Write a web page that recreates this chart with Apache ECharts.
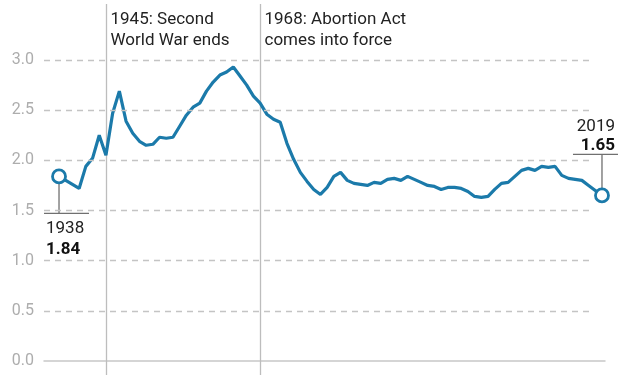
<!DOCTYPE html>
<html>
<head>
<meta charset="utf-8">
<script src="https://cdn.jsdelivr.net/npm/echarts@6/dist/echarts.min.js"></script>
<style>html,body{margin:0;padding:0;background:#fff}#c{width:624px;height:378px}</style>
</head>
<body>
<div id="c"></div>
<script>
const years = [];
for (let y = 1938; y <= 2019; y++) years.push(y);
const fertility = [
  1.84, 1.80, 1.76, 1.72, 1.94, 2.02, 2.25, 2.05, 2.47, 2.69,
  2.39, 2.27, 2.19, 2.15, 2.16, 2.23, 2.22, 2.23, 2.34, 2.45,
  2.53, 2.57, 2.69, 2.78, 2.85, 2.88, 2.93, 2.84, 2.75, 2.64,
  2.57, 2.46, 2.41, 2.38, 2.17, 2.01, 1.88, 1.79, 1.71, 1.66,
  1.73, 1.84, 1.88, 1.80, 1.77, 1.76, 1.75, 1.78, 1.77, 1.81,
  1.82, 1.80, 1.84, 1.81, 1.78, 1.75, 1.74, 1.71, 1.73, 1.73,
  1.72, 1.69, 1.64, 1.63, 1.64, 1.71, 1.77, 1.78, 1.84, 1.90,
  1.92, 1.90, 1.94, 1.93, 1.94, 1.85, 1.82, 1.81, 1.80, 1.75,
  1.70, 1.65
];
const yTicks = [0.5, 1.0, 1.5, 2.0, 2.5, 3.0];
const events = [
  { year: 1945, lines: ['1945: Second', 'World War ends'] },
  { year: 1968, lines: ['1968: Abortion Act', 'comes into force'] }
];

const BLUE = '#1b7aaa';
const FONT = 'Roboto, "Noto Sans", sans-serif';
const chart = echarts.init(document.getElementById('c'));
const lineData = years.map((y, i) => [y, fertility[i]]);
const endPts = [[years[0], fertility[0]], [years[years.length - 1], fertility[fertility.length - 1]]];

chart.setOption({
  animation: false,
  grid: { left: 44, right: 19, top: 60, bottom: 17 },
  xAxis: {
    type: 'value', min: 1935.76, max: 2019.45,
    axisLine: { show: true, lineStyle: { color: '#c8c8c8', width: 1.5 } },
    axisTick: { show: false }, axisLabel: { show: false }, splitLine: { show: false }
  },
  yAxis: {
    type: 'value', min: 0, max: 3, interval: 0.5,
    axisLine: { show: false }, axisTick: { show: false },
    splitLine: { show: false },
    axisLabel: { color: '#adadad', fontSize: 16, fontFamily: FONT, margin: 10,
      formatter: v => v.toFixed(1) }
  },
  series: [
    {
      type: 'line', data: lineData, showSymbol: false, symbol: 'none',
      lineStyle: { color: BLUE, width: 3.2 }, z: 3,
      markLine: {
        silent: true, symbol: 'none', label: { show: false },
        lineStyle: { color: '#c4c4c4', type: [6, 5], width: 1.3 },
        data: yTicks.map(v => [{ coord: [1935.76, v] }, { coord: [2017.55, v] }])
      }
    },
    {
      type: 'scatter', data: endPts, symbol: 'circle', symbolSize: 13, z: 5,
      itemStyle: { color: '#fff', borderColor: BLUE, borderWidth: 2.8, opacity: 1 }
    }
  ]
});

function px(x, y) { return chart.convertToPixel({ gridIndex: 0 }, [x, y]); }
const g = [];
events.forEach(ev => {
  const p = px(ev.year, 0);
  const x = Math.round(p[0]) + 0.5;
  g.push({ type: 'line', shape: { x1: x, y1: 4, x2: x, y2: p[1] + 14 },
    style: { stroke: '#bdbdbd', lineWidth: 1.3 }, z: 1 });
  ev.lines.forEach((t, i) => g.push({ type: 'text', x: x + 4, y: 20 + i * 21,
    style: { text: t, fill: '#222', font: '17px ' + FONT, verticalAlign: 'middle', textAlign: 'left' }, z: 6 }));
});
const CL = '#707070';
// start callout
const s = px(endPts[0][0], endPts[0][1]);
g.push({ type: 'line', shape: { x1: s[0], y1: s[1] + 6, x2: s[0], y2: s[1] + 37 }, style: { stroke: CL, lineWidth: 1.3 } });
g.push({ type: 'line', shape: { x1: s[0] - 15, y1: s[1] + 37, x2: s[0] + 30, y2: s[1] + 37 }, style: { stroke: CL, lineWidth: 1.3 } });
g.push({ type: 'text', x: s[0] - 13, y: s[1] + 52, style: { text: String(endPts[0][0]), fill: '#222', font: '17px ' + FONT, verticalAlign: 'middle' } });
g.push({ type: 'text', x: s[0] - 13, y: s[1] + 73, style: { text: endPts[0][1].toFixed(2), fill: '#111', font: 'bold 17px ' + FONT, verticalAlign: 'middle' } });
// end callout
const e = px(endPts[1][0], endPts[1][1]);
g.push({ type: 'line', shape: { x1: e[0], y1: e[1] - 6, x2: e[0], y2: e[1] - 41 }, style: { stroke: CL, lineWidth: 1.3 } });
g.push({ type: 'line', shape: { x1: e[0] - 29, y1: e[1] - 41, x2: e[0] + 16, y2: e[1] - 41 }, style: { stroke: CL, lineWidth: 1.3 } });
g.push({ type: 'text', x: e[0] + 13, y: e[1] - 69, style: { text: String(endPts[1][0]), fill: '#222', font: '17px ' + FONT, verticalAlign: 'middle', textAlign: 'right' } });
g.push({ type: 'text', x: e[0] + 13, y: e[1] - 50, style: { text: endPts[1][1].toFixed(2), fill: '#111', font: 'bold 17px ' + FONT, verticalAlign: 'middle', textAlign: 'right' } });
chart.setOption({ graphic: g });
</script>
</body>
</html>
